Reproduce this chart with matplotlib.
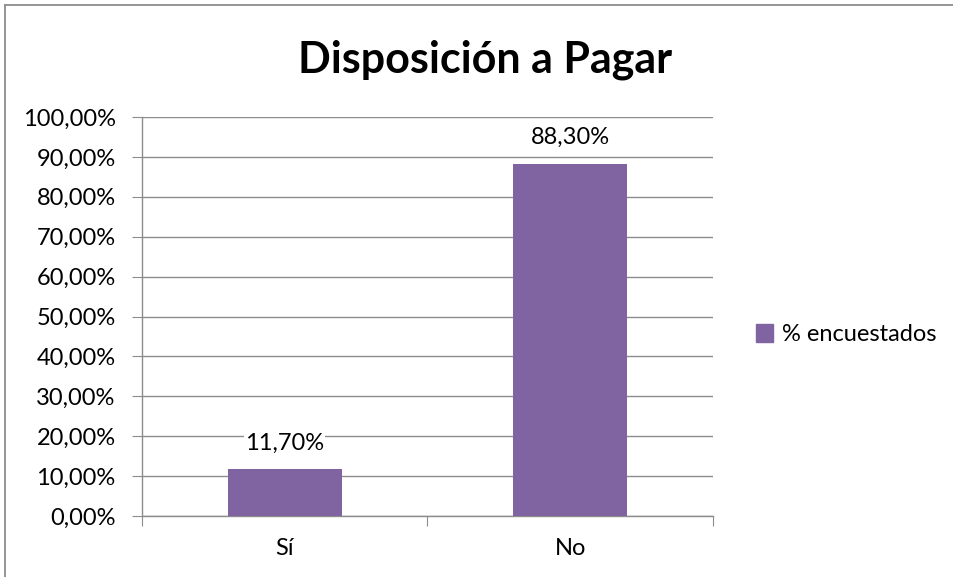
import matplotlib.pyplot as plt
from matplotlib.lines import Line2D
from matplotlib.patches import Patch

categorias = ['Sí', 'No']
valores = [11.70, 88.30]
serie = '% encuestados'
color_barra = '#8064A2'
gris = '#8c8c8c'

plt.rcParams['font.family'] = ['Lato', 'DejaVu Sans']

fig = plt.figure(figsize=(9.54, 5.77), dpi=100)
ax = fig.add_axes([0.1488, 0.1057, 0.5985, 0.6915])

x = list(range(len(categorias)))
ax.bar(x, valores, width=0.4, color=color_barra, zorder=3)
ax.set_xlim(-0.5, 1.5)
ax.set_ylim(0, 100)
ax.set_yticks(range(0, 101, 10))
ax.set_yticklabels(['%d,00%%' % v for v in range(0, 101, 10)], fontsize=17)
ax.yaxis.grid(True, color=gris, linewidth=1.0, zorder=0)
ax.tick_params(axis='y', length=7, color=gris, pad=12)

# category ticks between categories
ax.set_xticks([-0.5, 0.5, 1.5])
ax.set_xticklabels([])
ax.set_xticks(x, minor=True)
ax.set_xticklabels(categorias, minor=True, fontsize=17)
ax.tick_params(axis='x', which='major', length=7, color=gris, direction='out')
ax.tick_params(axis='x', which='minor', length=0, pad=16)

for s in ['top', 'right']:
    ax.spines[s].set_visible(False)
for s in ['left', 'bottom']:
    ax.spines[s].set_color(gris)
    ax.spines[s].set_linewidth(1.0)

for xi, v in zip(x, valores):
    ax.text(xi, v + 6.5, ('%.2f%%' % v).replace('.', ','), ha='center', va='center',
            fontsize=17, zorder=4,
            bbox=dict(facecolor='white', edgecolor='none', pad=0.5))

fig.text(0.5085, 0.897, 'Disposición a Pagar', ha='center', va='center',
         fontsize=31, fontweight='bold')

fig.legend(handles=[Patch(color=color_barra, label=serie)], loc='center left',
           bbox_to_anchor=(0.792, 0.42), frameon=False, fontsize=17,
           handlelength=0.75, handleheight=0.75, handletextpad=0.35,
           borderaxespad=0, borderpad=0)

# chart-area border (only left and top edges visible)
fig.lines.append(Line2D([0.005, 0.005], [0.0, 0.991], transform=fig.transFigure,
                        color=gris, linewidth=1.3))
fig.lines.append(Line2D([0.005, 1.0], [0.991, 0.991], transform=fig.transFigure,
                        color=gris, linewidth=1.3))

fig.savefig('out.png', dpi=100)
